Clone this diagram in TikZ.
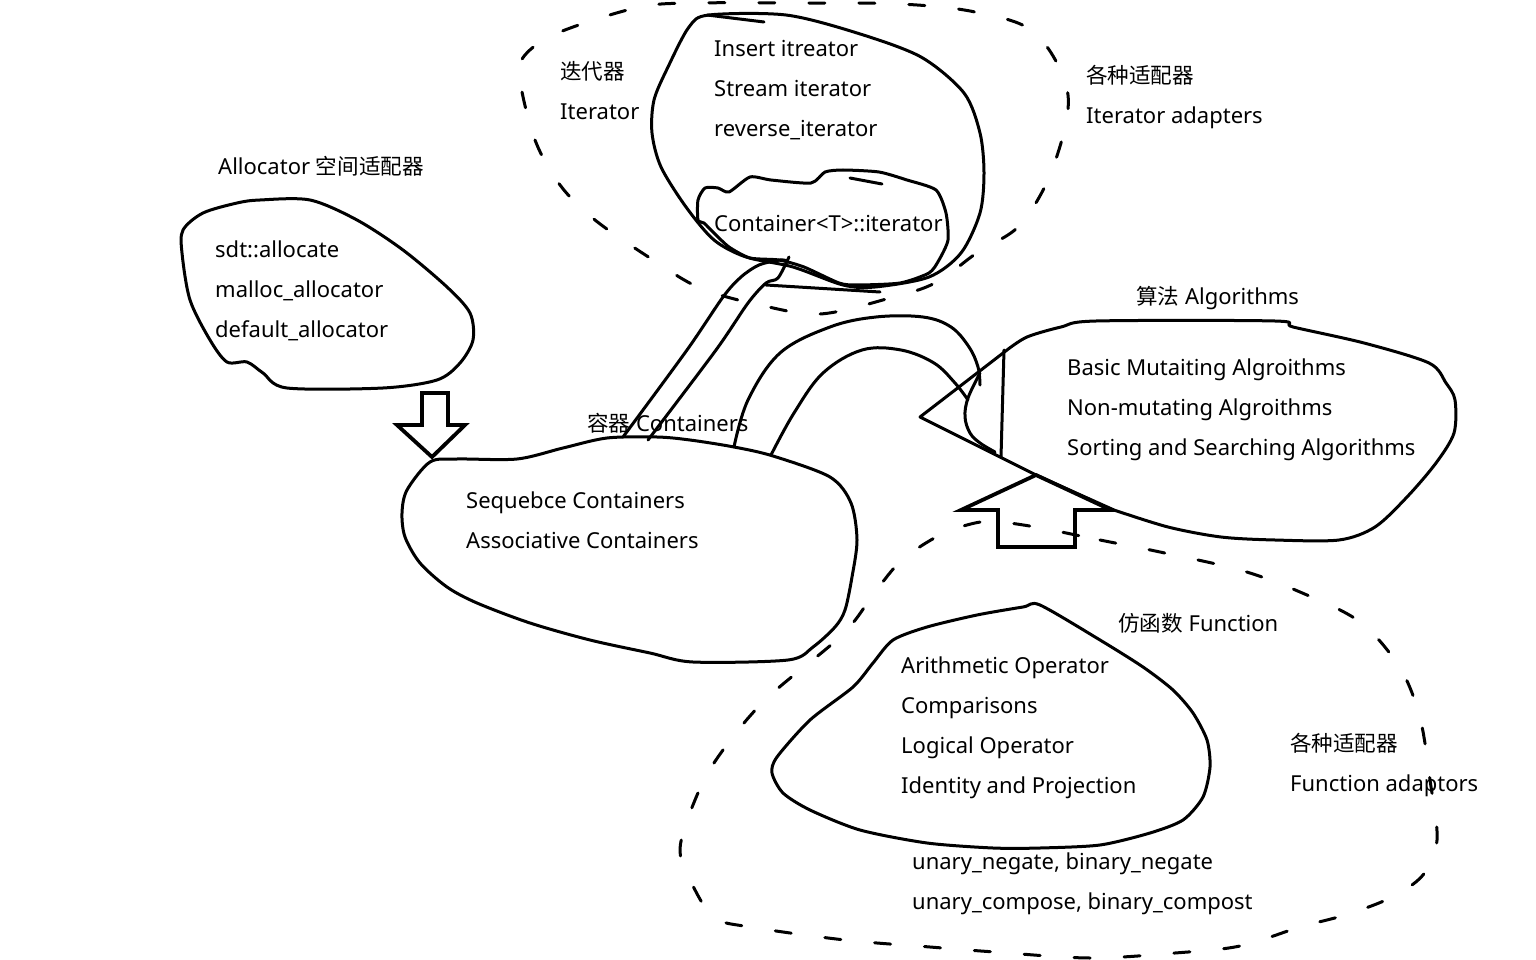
\documentclass[tikz,border=0pt]{standalone}
\usepackage{fontspec}
\setmainfont{Noto Sans}
\newfontfamily\cjk{Noto Sans CJK SC}[Scale=0.98]
\usepackage{tikz}
\usetikzlibrary{positioning}

\begin{document}
\begin{tikzpicture}[x=1pt, y=-1pt, font=\fontsize{22}{26}\selectfont,
    lbl/.style={anchor=base west, inner sep=0pt},
    blob/.style={draw, line width=3pt, line join=round, line cap=round},
    dashblob/.style={draw, line width=3pt, line cap=round, dash pattern=on 16pt off 34pt},
    bigarrow/.style={draw, line width=3.8pt, line join=miter}]
  \fill[white] (0,0) rectangle (1536,960);
  \useasboundingbox (0,0) rectangle (1536,960);

  \draw[dashblob] plot[smooth cycle, tension=0.55] coordinates {(520,80) (535,140) (560,185) (595,220)
    (650,258) (700,288) (760,305) (820,314) (890,298) (935,283) (978,252) (1020,225) (1052,170)
    (1068,95) (1035,33) (975,12) (900,4) (800,3) (700,3) (640,7) (560,32) (525,55)};
  \draw[dashblob] plot[smooth cycle, tension=0.55] coordinates {(1041,528) (1100,540) (1160,552)
    (1240,570) (1300,592) (1360,622) (1400,668) (1420,718) (1430,780) (1437,840) (1423,875)
    (1390,898) (1345,915) (1300,927) (1240,946) (1175,953) (1090,958) (995,952) (930,947)
    (845,940) (750,927) (715,918) (694,888) (680,850) (695,800) (718,757) (765,700) (842,635)
    (875,592) (902,560) (940,535) (975,523) (1000,522)};

  \draw[blob] plot[smooth cycle, tension=0.5] coordinates {(183,230) (203,213) (237,203) (260,200)
    (310,200) (357,220) (403,250) (447,287) (470,313) (473,340) (460,363) (437,380) (383,388)
    (287,388) (263,373) (247,362) (227,362) (210,340) (190,300) (182,253)};
  \draw[blob] plot[smooth cycle, tension=0.5] coordinates {(430,462) (457,459) (517,459) (563,448)
    (607,438) (657,437) (690,440) (734,447) (773,456) (830,477) (851,503) (857,540) (852,577)
    (845,610) (835,627) (813,647) (788,660) (693,662) (650,653) (590,640) (530,623) (477,603)
    (447,587) (420,563) (405,537) (402,513) (407,490)};
  \draw[blob] plot[smooth cycle, tension=0.5] coordinates {(709,15) (786,15) (857,33) (921,57)
    (964,93) (980,133) (984,173) (980,213) (961,253) (929,277) (875,287) (843,285) (793,267)
    (746,257) (714,240) (686,207) (661,167) (652,133) (654,100) (668,67) (689,27)};
  \draw[blob] plot[smooth cycle, tension=0.4] coordinates {(698,220) (698,200) (705,188) (718,188)
    (729,192) (750,177) (771,180) (811,183) (825,172) (843,170) (879,172) (907,180) (936,190)
    (946,213) (948,240) (939,260) (929,273) (900,283) (857,285) (839,283) (804,267) (779,260)
    (750,258) (729,247) (714,233) (704,223)};
  \draw[blob] (707,15) -- (764,22);
  \draw[blob] (850,178) -- (882,184);
  \draw[blob] (766,285) -- (880,292);

  \draw[blob] plot[smooth, tension=0.5] coordinates {(623,437) (687,350) (723,297) (741,277)
    (759,265) (780,260) (787,261)};
  \draw[blob] plot[smooth, tension=0.5] coordinates {(648,440) (716,350) (748,303) (766,283)
    (778,278) (789,257)};

  \draw[blob] plot[smooth, tension=0.6] coordinates {(734,447) (748,400) (780,353) (830,327)
    (876,317) (923,317) (951,327) (969,347) (978,367) (980,385)};
  \draw[blob] plot[smooth, tension=0.6] coordinates {(771,455) (794,413) (823,373) (862,350)
    (901,350) (934,363) (955,383) (968,400)};

  \draw[blob] plot[smooth, tension=0.5] coordinates {(1114,510) (1168,527) (1221,537) (1275,540)
    (1339,540) (1375,527) (1407,497) (1436,463) (1454,433) (1455,400) (1446,383) (1429,363)
    (1364,343) (1293,327) (1275,321) (1096,321) (1061,327) (1027,337) (1007,350)}
    -- (920,417) -- (1036,475) -- (1114,510);
  \draw[blob] (1004,350) -- (1001,457);
  \draw[blob] plot[smooth, tension=0.6] coordinates {(980,373) (968,398) (965,417) (970,433)
    (980,443) (995,452)};

  \draw[blob] plot[smooth cycle, tension=0.45] coordinates {(1040,605) (1100,640) (1143,667)
    (1173,690) (1193,713) (1207,740) (1210,767) (1203,797) (1183,820) (1150,833) (1100,845)
    (1040,848) (993,848) (927,843) (860,830) (810,810) (783,793) (772,773) (777,757) (810,720)
    (853,687) (873,663) (893,640) (927,627) (977,615) (1023,607)};

  \draw[bigarrow] (422,393) -- (448,393) -- (448,425) -- (465,425) -- (432,457) -- (397,425)
    -- (422,425) -- cycle;
  \draw[bigarrow] (1036,475) -- (1111,510) -- (1075,510) -- (1075,547) -- (998,547) -- (998,510)
    -- (961,510) -- cycle;

  \node[lbl] (alloctitle) at (218,175) {Allocator {\cjk 空间适配器}};
  \node[lbl] (alloc1) at (215,257) {sdt::allocate};
  \node[lbl] (alloc2) at (215,297) {malloc\_allocator};
  \node[lbl] (alloc3) at (215,337) {default\_allocator};

  \node[lbl] (itercn) at (560,80) {\cjk 迭代器};
  \node[lbl] (iteren) at (560,120) {Iterator};
  \node[lbl] (iter1) at (714,57) {Insert itreator};
  \node[lbl] (iter2) at (714,97) {Stream iterator};
  \node[lbl] (iter3) at (714,137) {reverse\_iterator};
  \node[lbl] (contiter) at (714,232) {Container<T>::iterator};
  \node[lbl] (iadaptcn) at (1086,84) {\cjk 各种适配器};
  \node[lbl] (iadapten) at (1086,124) {Iterator adapters};

  \node[lbl] (conttitle) at (587,431) {{\cjk 容器} Containers};
  \node[lbl] (cont1) at (466,508) {Sequebce Containers};
  \node[lbl] (cont2) at (466,548) {Associative Containers};

  \node[lbl] (algotitle) at (1136,304) {{\cjk 算法} Algorithms};
  \node[lbl] (algo1) at (1067,375) {Basic Mutaiting Algroithms};
  \node[lbl] (algo2) at (1067,415) {Non-mutating Algroithms};
  \node[lbl] (algo3) at (1067,455) {Sorting and Searching Algorithms};

  \node[lbl] (functitle) at (1118,631) {{\cjk 仿函数} Function};
  \node[lbl] (func1) at (901,673) {Arithmetic Operator};
  \node[lbl] (func2) at (901,713) {Comparisons};
  \node[lbl] (func3) at (901,753) {Logical Operator};
  \node[lbl] (func4) at (901,793) {Identity and Projection};
  \node[lbl] (fadaptcn) at (1290,751) {\cjk 各种适配器};
  \node[lbl] (fadapten) at (1290,791) {Function adaptors};
  \node[lbl] (fneg) at (912,869) {unary\_negate, binary\_negate};
  \node[lbl] (fcomp) at (912,909) {unary\_compose, binary\_compost};
\end{tikzpicture}
\end{document}
